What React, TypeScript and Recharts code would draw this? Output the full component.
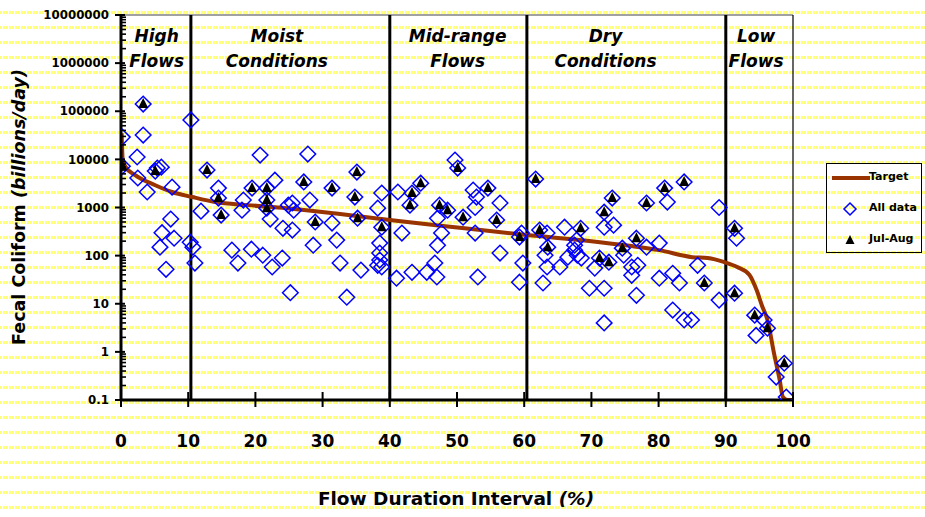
import React from 'react';
import { ComposedChart, Line, Scatter, XAxis, YAxis, ReferenceLine } from 'recharts';

const FONT = '"DejaVu Sans", Verdana, sans-serif';

// Flow duration interval (%) vs fecal coliform (billions/day)
const allDataPoints: [number, number][] = [
  [0.2, 29000], [0.2, 7200], [3.3, 141000], [3.3, 32000], [2.4, 11200], [2.5, 4100], [3.9, 2100],
  [5.1, 5700], [5.4, 6600], [6.0, 6900], [7.6, 2650], [7.4, 575], [6.1, 300], [5.8, 150], [7.9, 230],
  [6.7, 52], [10.3, 190], [10.7, 150], [11.0, 70], [10.4, 66000],
  [12.8, 6000], [14.5, 2530], [14.5, 1570], [14.9, 695], [11.9, 840], [20.7, 12300], [19.5, 2530],
  [21.7, 2530], [22.9, 3700], [21.7, 1430], [21.7, 970], [18.2, 1430], [18.0, 880], [22.2, 575],
  [24.1, 370], [16.5, 130], [17.4, 70], [19.4, 136], [21.1, 102], [22.5, 58], [24.0, 89], [25.2, 17],
  [27.8, 12900], [27.2, 3400], [28.1, 1430], [25.5, 1240], [25.7, 880], [25.5, 340], [28.9, 500],
  [31.4, 475], [31.4, 2530], [28.6, 165], [32.1, 210], [32.6, 70], [35.7, 50], [33.6, 13.7],
  [35.1, 5450], [34.8, 1650], [35.2, 600], [38.8, 2000], [38.2, 970], [38.8, 390], [38.5, 182],
  [38.5, 113], [38.5, 81], [38.2, 63], [38.8, 58], [24.9, 1120],
  [41.2, 2100], [43.3, 2000], [44.6, 3200], [43.0, 1120], [41.8, 295], [41.0, 34], [43.3, 45],
  [45.5, 45], [47.0, 36], [46.7, 70], [47.1, 165], [47.7, 295], [47.4, 1120], [48.6, 880], [47.1, 600],
  [49.7, 9700], [50.1, 6600], [52.4, 2300], [52.9, 1650], [54.6, 2530], [56.4, 1240], [55.9, 550],
  [52.7, 295], [50.9, 630], [56.4, 113], [53.1, 36], [59.6, 295], [59.3, 243], [59.8, 70], [59.3, 28],
  [52.7, 1000],
  [61.7, 3900], [62.3, 340], [63.5, 150], [63.4, 295], [63.1, 102], [63.4, 58], [62.8, 27], [66.0, 390],
  [65.3, 58], [66.5, 93], [67.5, 165], [67.9, 102], [68.4, 370], [67.8, 210], [70.5, 55], [69.7, 21],
  [71.9, 21], [71.9, 4.0], [71.2, 89], [72.6, 73], [71.9, 800], [71.9, 390], [73.3, 430], [73.1, 1570],
  [74.6, 143], [74.8, 102], [76.0, 58], [76.9, 63], [76.0, 39], [76.7, 15], [76.7, 230], [78.2, 150],
  [80.1, 182], [78.2, 1240], [80.9, 2530], [81.3, 1300], [83.8, 3400], [89.0, 1000], [80.1, 34],
  [82.1, 43], [83.1, 27], [82.1, 7.4], [83.8, 4.6], [84.9, 4.6], [85.8, 63], [86.8, 27], [89.0, 11.9],
  [68.5, 89], [67.5, 130],
  [91.3, 370], [91.6, 230], [91.3, 16.6], [94.3, 5.8], [94.5, 2.2], [95.7, 4.6], [96.2, 3.1],
  [98.7, 0.58], [97.5, 0.3], [99.0, 0.115],
];

const julAugPoints: [number, number][] = [
  [0.2, 7200], [3.3, 141000], [5.1, 5700], [12.8, 6000], [14.5, 1570], [14.9, 695], [19.5, 2530],
  [21.7, 2530], [21.7, 1430], [21.7, 970], [27.2, 3400], [28.9, 500], [31.4, 2530], [35.1, 5450],
  [34.8, 1650], [35.2, 600], [38.8, 390], [43.3, 2000], [44.6, 3200], [43.0, 1120], [47.4, 1120],
  [48.6, 880], [50.1, 6600], [50.9, 630], [54.6, 2530], [55.9, 550], [59.3, 243], [61.7, 3900],
  [62.3, 340], [63.5, 150], [68.4, 370], [71.2, 89], [72.6, 73], [71.9, 800], [73.1, 1570],
  [74.6, 143], [76.7, 230], [78.2, 1240], [80.9, 2530], [83.8, 3400], [86.8, 27], [91.3, 370],
  [91.3, 16.6], [94.3, 5.8], [96.2, 3.1], [98.7, 0.58],
];

const targetCurve: [number, number][] = [
  [0.1, 35000], [0.25, 10000], [0.7, 6900], [2.1, 4700], [5.1, 2900], [7.6, 2100], [10.6, 1650],
  [14, 1300], [18.9, 1120], [24.6, 970], [32, 750], [40, 550], [50.4, 380], [60.4, 267], [70, 200],
  [75.7, 160], [80.1, 130], [85.0, 93], [87.3, 89], [89.8, 73], [91.7, 58], [93.5, 40], [94.6, 19],
  [95.4, 9], [96.2, 4.6], [97.2, 0.9], [98, 0.27], [98.5, 0.115], [99.2, 0.1], [100, 0.1],
];

const xTicks = [0, 10, 20, 30, 40, 50, 60, 70, 80, 90, 100];
const yMajorTicks = [0.1, 1, 10, 100, 1000, 10000, 100000, 1000000, 10000000];
const zoneBoundaries = [10.4, 40, 60.4, 90];
const zoneLabels: { x: number; l1: string; l2: string }[] = [
  { x: 5.3, l1: 'High', l2: 'Flows' },
  { x: 23.2, l1: 'Moist', l2: 'Conditions' },
  { x: 50.1, l1: 'Mid-range', l2: 'Flows' },
  { x: 72.1, l1: 'Dry', l2: 'Conditions' },
  { x: 94.5, l1: 'Low', l2: 'Flows' },
];

const toRows = (arr: [number, number][]) => arr.map(([x, y]) => ({ x, y }));
const allRows = toRows(allDataPoints);
const julRows = toRows(julAugPoints);
const targetRows = toRows(targetCurve);

const yTicksAll: number[] = [];
yMajorTicks.forEach((m, i) => {
  yTicksAll.push(m);
  if (i < yMajorTicks.length - 1) for (let k = 2; k <= 9; k++) yTicksAll.push(+(m * k).toPrecision(3));
});

const fmt = (v: number) => (v < 1 ? String(v) : String(Math.round(v)));

const YTick = (props: any) => {
  const { x, y, payload } = props;
  const v = payload.value;
  const lg = Math.log10(v);
  const major = Math.abs(lg - Math.round(lg)) < 1e-6;
  if (major) {
    return (
      <g>
        <line x1={x - 6} x2={x + 4} y1={y} y2={y} stroke="#000" strokeWidth={2} />
        <text x={x - 12} y={y} dy="0.36em" textAnchor="end" fontSize={11.8} fontWeight="bold" fontFamily={FONT} fill="#000">
          {fmt(v)}
        </text>
      </g>
    );
  }
  return <line x1={x} x2={x + 5} y1={y} y2={y} stroke="#000" strokeWidth={1.6} />;
};

const XTick = (props: any) => {
  const { x, y, payload } = props;
  return (
    <g>
      <line x1={x} x2={x} y1={y - 8} y2={y + 7} stroke="#000" strokeWidth={2} />
      <text x={x} y={y + 47} textAnchor="middle" fontSize={17} fontWeight="bold" fontFamily={FONT} fill="#000">
        {payload.value}
      </text>
    </g>
  );
};

const Diamond = (props: any) => {
  const { cx, cy } = props;
  const r = 7.8;
  return (
    <polygon
      points={`${cx},${cy - r} ${cx + r},${cy} ${cx},${cy + r} ${cx - r},${cy}`}
      fill="none"
      stroke="#0000ff"
      strokeWidth={1.5}
    />
  );
};

const Tri = (props: any) => {
  const { cx, cy } = props;
  return <polygon points={`${cx},${cy - 6} ${cx + 5},${cy + 4} ${cx - 5},${cy + 4}`} fill="#000" />;
};

const zoneLabel = (l1: string, l2: string) => (p: any) => {
  const vb = p.viewBox || {};
  const cx = vb.x;
  return (
    <g fontFamily={FONT} fontWeight="bold" fontStyle="italic" fontSize={17} fill="#000">
      <text x={cx} y={42} textAnchor="middle">{l1}</text>
      <text x={cx} y={67} textAnchor="middle">{l2}</text>
    </g>
  );
};

const bgSvg =
  "<svg xmlns='http://www.w3.org/2000/svg' width='3' height='15'><rect x='0' y='0' width='2' height='3' fill='#ffff7a'/></svg>";
const bgUrl = `url("data:image/svg+xml;utf8,${encodeURIComponent(bgSvg)}")`;

export default function App() {
  return (
    <div
      style={{
        position: 'absolute',
        left: 0,
        top: 0,
        width: 925,
        height: 517,
        backgroundColor: '#fff',
        backgroundImage: bgUrl,
        backgroundPosition: '0px 11px',
        overflow: 'hidden',
      }}
    >
      <ComposedChart width={925} height={517} margin={{ top: 15, right: 132, left: 0, bottom: 57 }}>
        <XAxis
          type="number"
          dataKey="x"
          domain={[0, 100]}
          ticks={xTicks}
          interval={0}
          tickSize={0}
          tickMargin={0}
          tick={<XTick />}
          axisLine={{ stroke: '#000', strokeWidth: 3 }}
          height={60}
          allowDataOverflow
          label={{
            content: () => (
              <text x={456} y={505} textAnchor="middle" fontSize={18.5} fontWeight="bold" fontFamily={FONT} fill="#000">
                Flow Duration Interval <tspan fontStyle="italic">(%)</tspan>
              </text>
            ),
          }}
        />
        <YAxis
          type="number"
          dataKey="y"
          scale="log"
          domain={[0.1, 10000000]}
          ticks={yTicksAll}
          interval={0}
          tickSize={0}
          tickMargin={0}
          tick={<YTick />}
          axisLine={{ stroke: '#000', strokeWidth: 3 }}
          width={121}
          allowDataOverflow
          label={{
            content: () => (
              <text
                x={19}
                y={207}
                transform="rotate(-90 19 207)"
                textAnchor="middle"
                dominantBaseline="central"
                fontSize={17.5}
                fontWeight="bold"
                fontFamily={FONT}
                fill="#000"
              >
                Fecal Coliform <tspan fontStyle="italic">(billions/day)</tspan>
              </text>
            ),
          }}
        />
        <ReferenceLine y={10000000} stroke="#444" strokeWidth={1} />
        <ReferenceLine x={100} stroke="#000" strokeWidth={1.2} />
        {zoneBoundaries.map((b) => (
          <ReferenceLine key={b} x={b} stroke="#000" strokeWidth={3} />
        ))}
        {zoneLabels.map((z) => (
          <ReferenceLine key={z.l1} x={z.x} stroke="none" strokeOpacity={0} label={{ content: zoneLabel(z.l1, z.l2) }} />
        ))}
        <Line
          data={targetRows}
          dataKey="y"
          type="monotone"
          stroke="#993300"
          strokeWidth={4}
          dot={false}
          activeDot={false}
          isAnimationActive={false}
          name="Target"
        />
        <Scatter data={allRows} dataKey="y" shape={<Diamond />} isAnimationActive={false} name="All data" />
        <Scatter data={julRows} dataKey="y" shape={<Tri />} isAnimationActive={false} name="Jul-Aug" />
      </ComposedChart>
      <div
        style={{
          position: 'absolute',
          left: 826,
          top: 163,
          width: 96,
          height: 90,
          border: '1.5px solid #000',
          boxSizing: 'border-box',
          fontFamily: FONT,
          fontWeight: 'bold',
          fontSize: 11,
          color: '#000',
        }}
      >
        {[
          { label: 'Target', kind: 'line' },
          { label: 'All data', kind: 'diamond' },
          { label: 'Jul-Aug', kind: 'tri' },
        ].map((e, i) => (
          <div key={e.label} style={{ position: 'absolute', left: 0, top: 5 + i * 31, height: 18, width: 94 }}>
            <svg width={42} height={18} style={{ position: 'absolute', left: 3, top: 0 }}>
              {e.kind === 'line' && <line x1={2} x2={40} y1={9} y2={9} stroke="#993300" strokeWidth={4} />}
              {e.kind === 'diamond' && <polygon points="20,3 26,9 20,15 14,9" fill="none" stroke="#0000ff" strokeWidth={1.5} />}
              {e.kind === 'tri' && <polygon points="20,4 24.5,13 15.5,13" fill="#000" />}
            </svg>
            <span style={{ position: 'absolute', left: 42, top: 1, whiteSpace: 'nowrap' }}>{e.label}</span>
          </div>
        ))}
      </div>
    </div>
  );
}
